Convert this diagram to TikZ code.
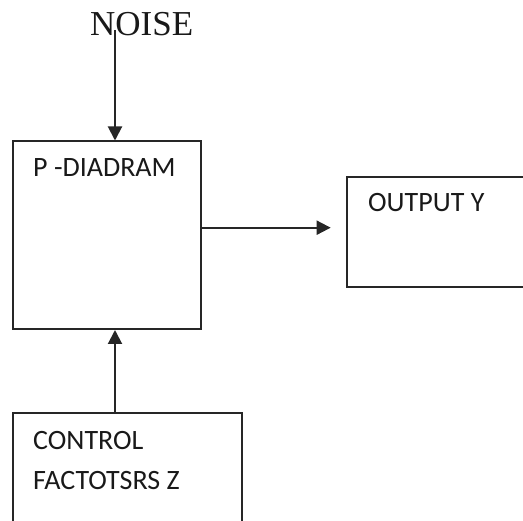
\documentclass[tikz,border=0pt]{standalone}
\usepackage{fontspec}
\setmainfont{Liberation Serif}
\newfontfamily\calib{Carlito}
\usetikzlibrary{arrows.meta}
\begin{document}
\begin{tikzpicture}[x=1pt,y=-1pt,
  box/.style={draw=black!85, line width=2pt, rectangle, inner sep=0pt, minimum width=#1},
  lbl/.style={anchor=base west, inner sep=0pt, font=\calib\fontsize{28}{34}\selectfont, text=black!90},
  arr/.style={draw=black!85, line width=2pt, -{Triangle[length=14pt,width=14pt]}}]
\useasboundingbox (0,0) rectangle (523,521);
\begin{scope}
\clip (0,0) rectangle (523,521);
\node[box=188.5pt, minimum height=187.5pt] (P) at (106.75,235.25) {};
\node[box=190pt, minimum height=109.4pt] (O) at (441.7,232) {};
\node[box=229.6pt, minimum height=130pt] (C) at (127.5,478.3) {};
\end{scope}
\node[anchor=base west, inner sep=0pt, font=\fontsize{35}{40}\selectfont, text=black!90] (N) at (90,36) {NOISE};
\node[lbl] (Pt) at (33,177) {P -DIADRAM};
\node[lbl] (Ot) at (368,212) {OUTPUT Y};
\node[lbl] (Ct1) at (33,450) {CONTROL};
\node[lbl] (Ct2) at (33,490) {FACTOTSRS Z};
\coordinate (ns) at (115,30);
\draw[arr] (ns) -- (P.north -| ns);
\coordinate (hy) at (0,227.7);
\draw[arr, shorten >=15pt] (P.east |- hy) -- (O.west |- hy);
\draw[arr] (C.north -| ns) -- (P.south -| ns);
\end{tikzpicture}
\end{document}
